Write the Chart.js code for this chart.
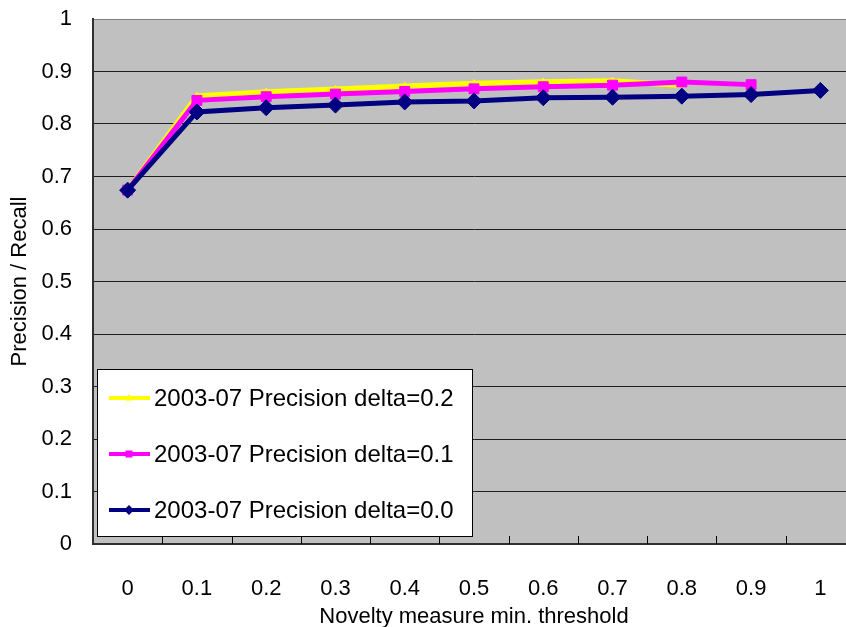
<!DOCTYPE html>
<html>
<head>
<meta charset="utf-8">
<script src="https://cdn.jsdelivr.net/npm/chart.js@4.4.0/dist/chart.umd.min.js"></script>
<style>
  html, body { margin: 0; padding: 0; background: #fff; overflow: hidden; }
  #wrap { width: 864px; height: 627px; }
</style>
</head>
<body>
<div id="wrap"><canvas id="noveltyChart"></canvas></div>
<script>
// Novelty threshold categories (x axis)
const thresholds = ['0', '0.1', '0.2', '0.3', '0.4', '0.5', '0.6', '0.7', '0.8', '0.9', '1'];

// Precision values, one array per delta
const precisionDelta02 = [0.674, 0.853, 0.861, 0.866, 0.872, 0.877, 0.880, 0.882, 0.874, null, null];
const precisionDelta01 = [0.674, 0.845, 0.852, 0.857, 0.862, 0.867, 0.871, 0.874, 0.880, 0.875, null];
const precisionDelta00 = [0.674, 0.823, 0.831, 0.836, 0.842, 0.844, 0.850, 0.851, 0.853, 0.856, 0.864];

// y axis tick labels
const yTickLabels = ['0', '0.1', '0.2', '0.3', '0.4', '0.5', '0.6', '0.7', '0.8', '0.9', '1'];

const seriesNames = [
    '2003-07 Precision delta=0.2',
    '2003-07 Precision delta=0.1',
    '2003-07 Precision delta=0.0'
];

const FONT = '"Liberation Sans", Arial, sans-serif';

// gray plot area, like the old Excel charts
const plotBackground = {
    id: 'plotBackground',
    beforeDraw(chart) {
        const { ctx, chartArea } = chart;
        ctx.save();
        ctx.fillStyle = '#ffffff';
        ctx.fillRect(0, 0, chart.width, chart.height);
        ctx.fillStyle = '#c0c0c0';
        ctx.fillRect(chartArea.left, chartArea.top, chartArea.right - chartArea.left, chartArea.bottom - chartArea.top);
        ctx.restore();
    }
};

// short tick marks between categories, pointing into the plot
const innerTicks = {
    id: 'innerTicks',
    afterDraw(chart) {
        const { ctx } = chart;
        const x = chart.scales.x;
        const n = thresholds.length;
        const step = (x.right - x.left) / n;
        ctx.save();
        ctx.strokeStyle = '#000';
        ctx.lineWidth = 1;
        ctx.beginPath();
        for (let i = 1; i < n; i++) {
            const px = Math.round(x.left + i * step) + 0.5;
            ctx.moveTo(px, x.top);
            ctx.lineTo(px, x.top - 8);
        }
        ctx.stroke();
        ctx.restore();
    }
};

function drawMarker(ctx, style, cx, cy, r) {
    ctx.beginPath();
    if (style === 'triangle') {
        ctx.moveTo(cx, cy - r);
        ctx.lineTo(cx + r, cy + r * 0.6);
        ctx.lineTo(cx - r, cy + r * 0.6);
    } else if (style === 'rect') {
        ctx.rect(cx - r, cy - r, 2 * r, 2 * r);
    } else {
        ctx.moveTo(cx, cy - r);
        ctx.lineTo(cx + r, cy);
        ctx.lineTo(cx, cy + r);
        ctx.lineTo(cx - r, cy);
    }
    ctx.closePath();
    ctx.fill();
}

// legend box sitting inside the plot area, bottom left
const insideLegend = {
    id: 'insideLegend',
    afterDraw(chart) {
        const { ctx, chartArea } = chart;
        const w = 375, h = 167;
        const x0 = chartArea.left + 4;
        const y0 = chartArea.bottom - 8 - h;
        const legendMarkerSize = [4, 3.5, 5];
        ctx.save();
        ctx.fillStyle = '#fff';
        ctx.fillRect(x0, y0, w, h);
        ctx.strokeStyle = '#000';
        ctx.lineWidth = 1;
        ctx.strokeRect(Math.round(x0) + 0.5, Math.round(y0) + 0.5, w, h);
        ctx.font = '24px ' + FONT;
        ctx.textBaseline = 'middle';
        ctx.textAlign = 'left';
        // legend follows dataset index order: 0.2, 0.1, 0.0
        chart.data.datasets.forEach((ds, i) => {
            const cy = y0 + 29 + i * 56;
            ctx.strokeStyle = ds.borderColor;
            ctx.lineWidth = 4;
            ctx.beginPath();
            ctx.moveTo(x0 + 12, cy);
            ctx.lineTo(x0 + 53, cy);
            ctx.stroke();
            ctx.fillStyle = ds.borderColor;
            drawMarker(ctx, ds.pointStyle, x0 + 32, cy, legendMarkerSize[i]);
            ctx.fillStyle = '#000';
            ctx.fillText(ds.label, x0 + 57, cy + 1);
        });
        ctx.restore();
    }
};

const ctx = document.getElementById('noveltyChart').getContext('2d');

new Chart(ctx, {
    type: 'line',
    data: {
        labels: thresholds,
        datasets: [
            {
                label: seriesNames[0],
                data: precisionDelta02,
                borderColor: '#ffff00',
                backgroundColor: '#ffff00',
                borderWidth: 5.5,
                pointStyle: 'triangle',
                pointRadius: 4,
                pointBorderWidth: 1,
                order: 3
            },
            {
                label: seriesNames[1],
                data: precisionDelta01,
                borderColor: '#ff00ff',
                backgroundColor: '#ff00ff',
                borderWidth: 5,
                pointStyle: 'rect',
                pointRadius: 7,
                pointBorderWidth: 1,
                order: 2
            },
            {
                label: seriesNames[2],
                data: precisionDelta00,
                borderColor: '#000080',
                backgroundColor: '#000080',
                borderWidth: 5,
                pointStyle: 'rectRot',
                pointRadius: 8,
                pointBorderWidth: 1,
                order: 1
            }
        ]
    },
    options: {
        responsive: true,
        maintainAspectRatio: false,
        animation: false,
        spanGaps: false,
        layout: { padding: { top: 19, right: 8, left: 0, bottom: 0 } },
        plugins: {
            legend: { display: false },
            tooltip: { enabled: false }
        },
        scales: {
            x: {
                offset: true,
                grid: { display: false },
                border: { display: true, color: '#303030', width: 2 },
                ticks: {
                    color: '#000',
                    font: { family: FONT, size: 22 },
                    padding: 24,
                    maxRotation: 0,
                    autoSkip: false
                },
                title: {
                    display: true,
                    text: 'Novelty measure min. threshold',
                    color: '#000',
                    font: { family: FONT, size: 22, lineHeight: 1 },
                    padding: { top: 0, bottom: -1 }
                },
                afterFit(scale) { scale.height = 83; }
            },
            y: {
                min: 0,
                max: 1,
                grid: {
                    drawTicks: true,
                    tickLength: 21,
                    tickColor: 'rgba(0,0,0,0)',
                    color: c => (c.tick && c.tick.value === 1 ? '#808080' : '#1e1e1e'),
                    lineWidth: 1
                },
                border: { display: true, color: '#303030', width: 2 },
                ticks: {
                    stepSize: 0.1,
                    color: '#000',
                    font: { family: FONT, size: 22 },
                    padding: 0,
                    callback: (value, index) => yTickLabels[index]
                },
                title: {
                    display: true,
                    text: 'Precision / Recall',
                    color: '#000',
                    font: { family: FONT, size: 22, lineHeight: 1 },
                    padding: { top: 9, bottom: 0 }
                },
                afterFit(scale) { scale.width = 93; }
            }
        }
    },
    plugins: [plotBackground, innerTicks, insideLegend]
});
</script>
</body>
</html>
